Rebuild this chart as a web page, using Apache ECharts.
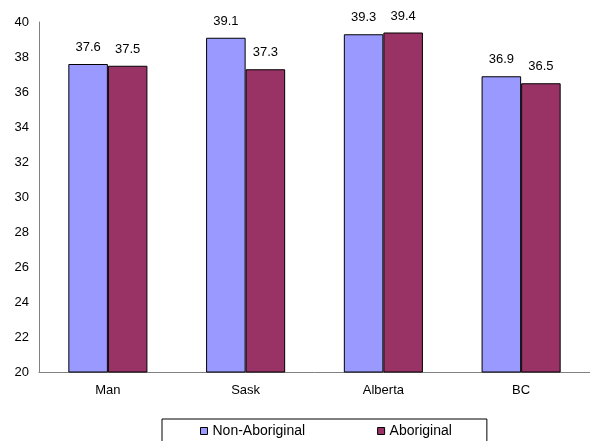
<!DOCTYPE html>
<html>
<head>
<meta charset="utf-8">
<script src="https://cdn.jsdelivr.net/npm/echarts@6/dist/echarts.min.js"></script>
<style>
  html, body { margin: 0; padding: 0; background: #fff; }
  #chart { width: 590px; height: 441px; }
</style>
</head>
<body>
<div id="chart"></div>
<script>
// Provinces and the two population groups
const categories = ['Man', 'Sask', 'Alberta', 'BC'];
const nonAboriginal = [37.6, 39.1, 39.3, 36.9];
const aboriginal = [37.5, 37.3, 39.4, 36.5];
const seriesNames = ['Non-Aboriginal', 'Aboriginal'];
const yTicks = { min: 20, max: 40, interval: 2 };

const FONT = '"Liberation Sans", Arial, sans-serif';
const FS = 13;

const chart = echarts.init(document.getElementById('chart'));

function barSeries(name, data, color) {
  return {
    name: name,
    type: 'bar',
    data: data,
    barGap: '0%',
    barCategoryGap: '42.6%',
    itemStyle: { color: color, borderColor: '#000', borderWidth: 1 },
    label: {
      show: true,
      position: 'top',
      distance: 10,
      color: '#000',
      fontFamily: FONT,
      fontSize: FS,
      formatter: p => p.value.toFixed(1)
    },
    emphasis: { disabled: true }
  };
}

chart.setOption({
  animation: false,
  backgroundColor: '#fff',
  grid: { left: 39, right: -6, top: 22, bottom: 69, containLabel: false },
  xAxis: {
    type: 'category',
    data: categories,
    axisLine: { lineStyle: { color: '#808080', width: 1 } },
    axisTick: { show: false },
    axisLabel: { color: '#000', fontFamily: FONT, fontSize: FS, margin: 12 }
  },
  yAxis: {
    type: 'value',
    min: yTicks.min,
    max: yTicks.max,
    interval: yTicks.interval,
    axisLine: { show: true, lineStyle: { color: '#808080', width: 1 } },
    axisTick: { show: false },
    splitLine: { show: false },
    axisLabel: { color: '#000', fontFamily: FONT, fontSize: FS, margin: 10 }
  },
  legend: {
    data: seriesNames,
    left: 162,
    top: 419,
    orient: 'horizontal',
    padding: [5, 35, 12, 38],
    itemGap: 72,
    itemWidth: 7,
    itemHeight: 7,
    borderColor: '#000',
    borderWidth: 1,
    icon: 'rect',
    itemStyle: { borderColor: '#000', borderWidth: 1 },
    textStyle: { color: '#000', fontFamily: FONT, fontSize: 14 }
  },
  series: [
    barSeries(seriesNames[0], nonAboriginal, '#9999FF'),
    barSeries(seriesNames[1], aboriginal, '#993366')
  ]
});
</script>
</body>
</html>
